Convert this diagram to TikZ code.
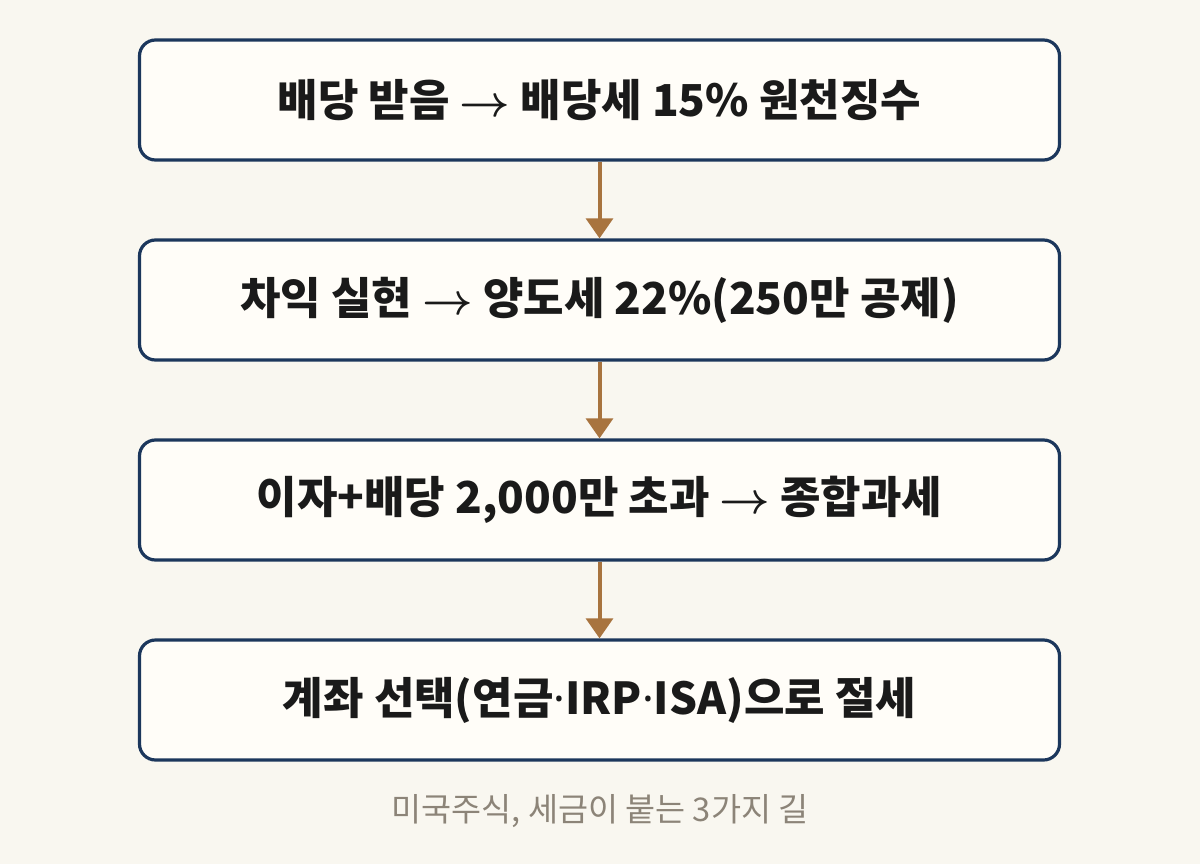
\documentclass[tikz,border=0pt]{standalone}
\usepackage{fix-cm}
\usepackage{amsmath}
\usepackage{bm}
\usepackage{fontspec}
\setmainfont{Noto Sans CJK KR}
\newfontfamily\dotfont{Noto Sans}
\usetikzlibrary{positioning,arrows.meta}
\definecolor{pagebg}{HTML}{F9F7F0}
\definecolor{boxfill}{HTML}{FFFDF8}
\definecolor{navy}{HTML}{1C375C}
\definecolor{bronze}{HTML}{A8743F}
\definecolor{inkdark}{HTML}{1A1A1A}
\definecolor{capgray}{HTML}{8C8478}
\newcommand{\goesto}{ $\bm{\rightarrow}$ }
\newcommand{\middot}{{\dotfont\bfseries ·}}
\tikzset{
  stepbox/.style={draw=navy, line width=2.4pt, fill=boxfill, rounded corners=12pt,
    minimum width=690pt, minimum height=90pt, inner sep=0pt,
    text=inkdark, font=\bfseries\fontsize{33pt}{38pt}\selectfont},
  flow/.style={draw=bronze, line width=3pt, -{Triangle[width=20pt,length=15pt]}}
}
\begin{document}
\begin{tikzpicture}[x=0.75pt,y=-0.75pt]
\useasboundingbox[fill=pagebg] (0,0) rectangle (1200,864);
\node[stepbox] (s1) at (599.5,100) {배당 받음\goesto 배당세 15\% 원천징수};
\node[stepbox] (s2) at (599.5,300) {차익 실현\goesto 양도세 22\%(250만 공제)};
\node[stepbox] (s3) at (599.5,500) {이자+배당 2,000만 초과\goesto 종합과세};
\node[stepbox] (s4) at (599.5,700) {계좌 선택(연금\middot IRP\middot ISA)으로 절세};
\draw[flow] (s1) -- (s2);
\draw[flow] (s2) -- (s3);
\draw[flow] (s3) -- (s4);
\node[text=capgray, font=\fontsize{24.5pt}{28pt}\selectfont] (cap) at (600,811) {미국주식, 세금이 붙는 3가지 길};
\end{tikzpicture}
\end{document}
